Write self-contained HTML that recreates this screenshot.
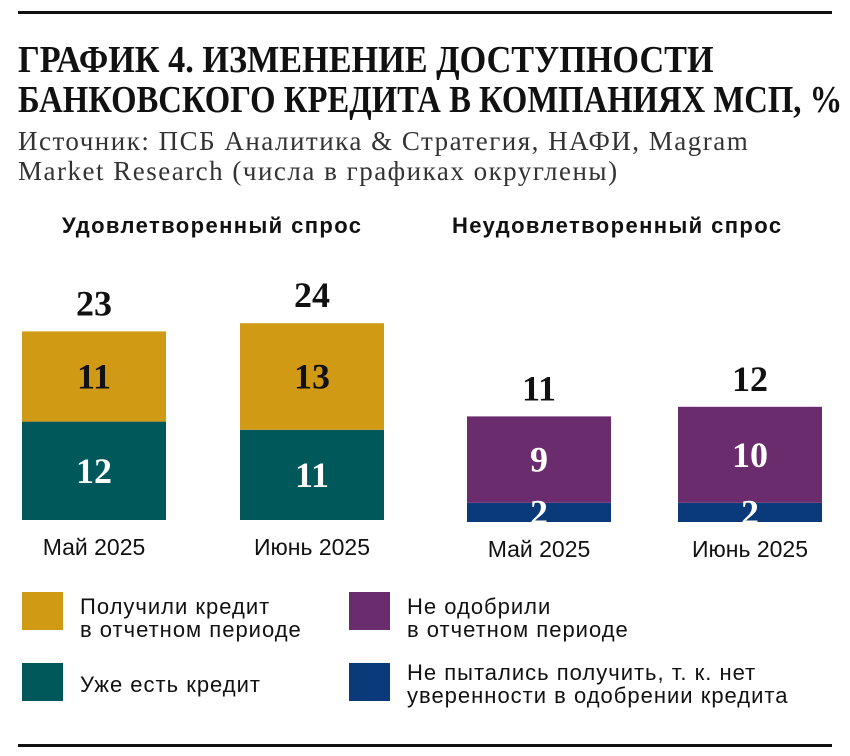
<!DOCTYPE html>
<html><head><meta charset="utf-8"><style>
body{margin:0;background:#fff;width:850px;height:756px;overflow:hidden;position:relative;font-family:"Liberation Sans",sans-serif;color:#111}
.t{position:absolute;white-space:nowrap}
.tl{position:absolute;left:18px;font:bold 38px/40px "Liberation Serif",serif;transform-origin:0 0;white-space:nowrap}
.sub{left:18px;top:126px;font:27px/30px "Liberation Serif",serif;color:#333;letter-spacing:1.5px}
.hdr{font:bold 22px "Liberation Sans",sans-serif;letter-spacing:1.4px}
.leg{font:22px/23px "Liberation Sans",sans-serif;letter-spacing:1px}
.sw{position:absolute;width:41px;height:38px}
</style></head><body>
<div style="position:absolute;left:18px;top:11px;width:814px;height:3px;background:#111"></div>
<div class="tl" style="top:40px;transform:scaleX(0.9)">ГРАФИК 4. ИЗМЕНЕНИЕ ДОСТУПНОСТИ</div>
<div class="tl" style="top:80px;transform:scaleX(0.86)">БАНКОВСКОГО КРЕДИТА В КОМПАНИЯХ МСП, %</div>
<div class="t sub">Источник: ПСБ Аналитика &amp; Стратегия, НАФИ, Magram<br>Market Research (числа в графиках округлены)</div>
<div class="t hdr" style="left:62px;top:213px">Удовлетворенный спрос</div>
<div class="t hdr" style="left:452px;top:213px">Неудовлетворенный спрос</div>
<svg id="chart" width="850" height="756" style="position:absolute;left:0;top:0"></svg>
<div class="sw" style="left:22px;top:592px;background:#D09A14"></div>
<div class="t leg" style="left:80px;top:595px">Получили кредит<br>в отчетном периоде</div>
<div class="sw" style="left:22px;top:663px;background:#00585A"></div>
<div class="t leg" style="left:80px;top:673px">Уже есть кредит</div>
<div class="sw" style="left:349px;top:592px;background:#6B2C6E"></div>
<div class="t leg" style="left:407px;top:595px">Не одобрили<br>в отчетном периоде</div>
<div class="sw" style="left:349px;top:663px;background:#0A3A7A"></div>
<div class="t leg" style="left:407px;top:661px">Не пытались получить, т. к. нет<br>уверенности в одобрении кредита</div>
<div style="position:absolute;left:18px;top:744px;width:814px;height:3px;background:#111"></div>
<script>
const categories=["Май 2025","Июнь 2025"];
const existingCredit=[12,11];
const receivedCredit=[11,13];
const notTried=[2,2];
const rejected=[9,10];
const svg=document.getElementById('chart');
const NS='http://www.w3.org/2000/svg';
function yL(v){return 520-v*8.2;}
function yR(v){return 522-v*9.6;}
function rect(x,y1,y2,w,fill,name){const r=document.createElementNS(NS,'rect');r.setAttribute('x',x);r.setAttribute('y',y2);r.setAttribute('width',w);r.setAttribute('height',y1-y2);r.setAttribute('fill',fill);


svg.appendChild(r);}
function txt(x,y,s,size,fill,font,name,w){const t=document.createElementNS(NS,'text');t.setAttribute('x',x);t.setAttribute('y',y);t.setAttribute('text-anchor','middle');t.setAttribute('font-size',size);t.setAttribute('fill',fill);t.setAttribute('font-family',font);if(w)t.setAttribute('font-weight','bold');t.textContent=s;


svg.appendChild(t);}
const serif='Liberation Serif, serif', sans='Liberation Sans, sans-serif';
function group(xs,a,b,yf,ca,cb,na,nb){
 categories.forEach((c,i)=>{const x=xs[i],w=144,cx=x+w/2;
  const y0=yf(0),y1=yf(a[i]),y2=yf(a[i]+b[i]);
  rect(x,y0,y1,w,ca,na+'-bar-'+i);rect(x,y1,y2,w,cb,nb+'-bar-'+i);
  txt(cx,(y0+y1)/2+12,a[i],36,'#fff',serif,na+'-value-'+i,true);
  txt(cx,(y1+y2)/2+12,b[i],36,nb==='received'?'#111':'#fff',serif,nb+'-value-'+i,true);
  txt(cx,y2-16,a[i]+b[i],36,'#111',serif,'total-'+na+'-'+i,true);
  txt(cx,y0+35,c,23,'#111',sans,'x-label-'+na+'-'+i,false);
 });}
group([22,240],existingCredit,receivedCredit,yL,'#00585A','#D09A14','existing','received');
group([467,678],notTried,rejected,yR,'#0A3A7A','#6B2C6E','not-tried','rejected');
</script>
</body></html>
